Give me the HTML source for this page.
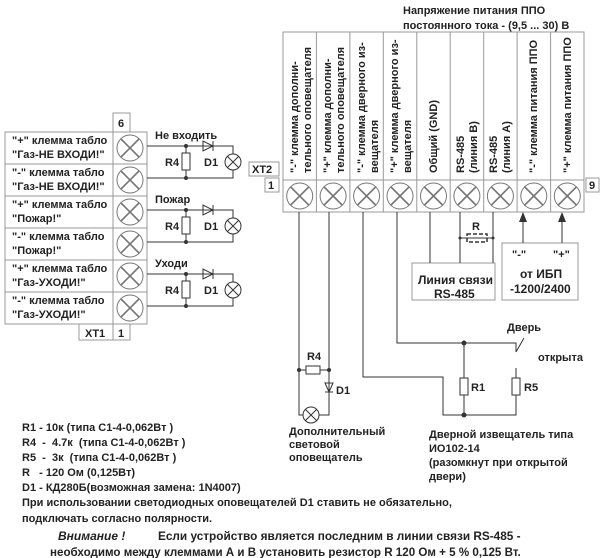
<!DOCTYPE html>
<html><head><meta charset="utf-8"><style>
html,body{margin:0;padding:0;background:#fff}
svg{display:block}
text{font-family:"Liberation Sans",sans-serif;font-size:11px;font-weight:bold;fill:#222}
.n{font-weight:normal}
</style></head><body>
<svg width="600" height="558" viewBox="0 0 600 558" xmlns="http://www.w3.org/2000/svg">
<defs>
<g id="term"><circle r="13" fill="#fff" stroke="#777" stroke-width="1"/><path d="M-9,-9L9,9M9,-9L-9,9" stroke="#777" stroke-width="1.6"/></g>
<g id="lamp"><circle r="8" fill="#fff" stroke="#333"/><path d="M-5.5,-5.5L5.5,5.5M5.5,-5.5L-5.5,5.5" stroke="#333"/></g>
</defs>
<g stroke="#999" fill="none">
<rect x="5" y="132" width="108" height="192"/>
<rect x="113" y="132" width="34" height="192"/>
<path d="M5,164H147M5,196H147M5,228H147M5,260H147M5,292H147"/>
<rect x="113" y="113" width="17" height="19"/>
<rect x="79" y="324" width="34" height="16"/>
<rect x="113" y="324" width="17" height="16"/>
<rect x="283" y="32" width="301" height="180"/>
<path d="M283,180H584"/>
<path d="M316.4,32V212M349.9,32V212M383.3,32V212M416.8,32V212M450.2,32V212M483.7,32V212M517.1,32V212M550.6,32V212"/>
<rect x="249" y="162" width="30" height="14"/>
<rect x="265" y="178" width="14" height="14"/>
<rect x="586" y="178" width="13" height="14"/>
<rect x="412" y="263" width="83" height="37"/>
<rect x="502" y="243" width="76" height="57"/>
</g>
<g>
<use href="#term" x="130" y="148"/><use href="#term" x="130" y="180"/><use href="#term" x="130" y="212"/>
<use href="#term" x="130" y="244"/><use href="#term" x="130" y="276"/><use href="#term" x="130" y="308"/>
<use href="#term" x="299.7" y="196"/><use href="#term" x="333.1" y="196"/><use href="#term" x="366.6" y="196"/>
<use href="#term" x="400" y="196"/><use href="#term" x="433.5" y="196"/><use href="#term" x="466.9" y="196"/>
<use href="#term" x="500.4" y="196"/><use href="#term" x="533.8" y="196"/><use href="#term" x="567.3" y="196"/>
</g>
<g stroke="#333" fill="none">
<g id="grp">
<path d="M147,146H233V154M233,170V178H147M186,146V153M186,170V178"/>
<rect x="182" y="153" width="8" height="17" fill="#fff"/>
<path d="M203,141V151L213,146Z M213,141V151"/>
</g>
<use href="#grp" y="64"/><use href="#grp" y="128"/>
</g>
<g fill="#333">
<circle cx="186" cy="146" r="2"/><circle cx="186" cy="178" r="2"/>
<circle cx="186" cy="210" r="2"/><circle cx="186" cy="242" r="2"/>
<circle cx="186" cy="274" r="2"/><circle cx="186" cy="306" r="2"/>
</g>
<use href="#lamp" x="233" y="162"/><use href="#lamp" x="233" y="226"/><use href="#lamp" x="233" y="290"/>
<text x="155" y="139">Не входить</text><text x="155" y="203">Пожар</text><text x="155" y="267">Уходи</text>
<text x="165" y="166">R4</text><text x="204" y="166">D1</text>
<text x="165" y="230">R4</text><text x="204" y="230">D1</text>
<text x="165" y="294">R4</text><text x="204" y="294">D1</text>
<text x="12" y="144">"+" клемма табло</text><text x="12" y="158">"Газ-НЕ ВХОДИ!"</text>
<text x="12" y="176">"-" клемма табло</text><text x="12" y="190">"Газ-НЕ ВХОДИ!"</text>
<text x="12" y="208">"+" клемма табло</text><text x="12" y="222">"Пожар!"</text>
<text x="12" y="240">"-" клемма табло</text><text x="12" y="254">"Пожар!"</text>
<text x="12" y="272">"+" клемма табло</text><text x="12" y="286">"Газ-УХОДИ!"</text>
<text x="12" y="304">"-" клемма табло</text><text x="12" y="318">"Газ-УХОДИ!"</text>
<text x="118" y="127">6</text><text x="85" y="337">XT1</text><text x="118" y="337">1</text>
<text x="252" y="173">XT2</text><text x="268" y="189">1</text><text x="589" y="189">9</text>
<text x="403" y="14">Напряжение питания ППО</text>
<text x="403" y="29">постоянного тока - (9,5 ... 30) В</text>
<g class="n">
<text transform="translate(298,173) rotate(-90)">"-" клемма дополни-</text><text transform="translate(311,173) rotate(-90)">тельного оповещателя</text>
<text transform="translate(331,173) rotate(-90)">"+" клемма дополни-</text><text transform="translate(344,173) rotate(-90)">тельного оповещателя</text>
<text transform="translate(365,173) rotate(-90)">"-" клемма дверного из-</text><text transform="translate(378,173) rotate(-90)">вещателя</text>
<text transform="translate(398,173) rotate(-90)">"+" клемма дверного из-</text><text transform="translate(411,173) rotate(-90)">вещателя</text>
<text transform="translate(437,173) rotate(-90)">Общий (GND)</text>
<text transform="translate(464,173) rotate(-90)">RS-485</text><text transform="translate(477,173) rotate(-90)">(линия В)</text>
<text transform="translate(497,173) rotate(-90)">RS-485</text><text transform="translate(510,173) rotate(-90)">(линия А)</text>
<text transform="translate(537,173) rotate(-90)">"-" клемма  питания ППО</text>
<text transform="translate(571,173) rotate(-90)">"+" клемма питания ППО</text>
</g>
<g stroke="#333" fill="none">
<path d="M299,212V415H303M319,415H329V212"/>
<path d="M299,370H306M320,370H329"/><rect x="306" y="366" width="14" height="8"/>
<path d="M325,383H333L329,392Z M325,392H333"/>
<path d="M363,212V377H443V415H516V395M516,378V368"/>
<path d="M397,212V343H516V352M516,352L524,338"/>
<path d="M464,343V378M464,395V415"/>
<rect x="460" y="378" width="8" height="17" fill="#fff"/>
<rect x="512" y="378" width="8" height="17" fill="#fff"/>
<path d="M430,212V263M460,212V263M493,212V263"/>
<path d="M460,238H493"/>
<rect x="467" y="234" width="20" height="8" stroke-dasharray="4,2" stroke-width="1.5"/>
<path d="M523,243V218M562,243V218"/>
</g>
<path d="M519,222L523,212L527,222Z M558,222L562,212L566,222Z" fill="#333"/>
<g fill="#333"><circle cx="299" cy="370" r="2"/><circle cx="329" cy="370" r="2"/>
<circle cx="464" cy="343" r="2.5"/><circle cx="464" cy="415" r="2.5"/>
<circle cx="460" cy="238" r="1.5"/><circle cx="493" cy="238" r="1.5"/></g>
<use href="#lamp" x="311" y="415"/>
<text x="307" y="360">R4</text><text x="336" y="394">D1</text>
<text x="472" y="230">R</text>
<text x="418" y="284" style="font-size:12px">Линия связи</text><text x="434" y="298" style="font-size:12px">RS-485</text>
<text x="512" y="258">"-"</text><text x="553" y="258">"+"</text>
<text x="520" y="278" style="font-size:12px">от ИБП</text><text x="510" y="293" style="font-size:12px">-1200/2400</text>
<text x="507" y="331">Дверь</text><text x="538" y="361">открыта</text>
<text x="471" y="391">R1</text><text x="524" y="391">R5</text>
<text x="289" y="435">Дополнительный</text><text x="289" y="448">световой</text><text x="289" y="461">оповещатель</text>
<text x="429" y="438">Дверной извещатель типа</text><text x="429" y="452">ИО102-14</text>
<text x="429" y="466">(разомкнут при открытой</text><text x="429" y="480">двери)</text>
<text x="22" y="431">R1 - 10к (типа С1-4-0,062Вт )</text>
<text x="22" y="446" xml:space="preserve">R4  -  4.7к  (типа С1-4-0,062Вт )</text>
<text x="22" y="461" xml:space="preserve">R5  -  3к  (типа С1-4-0,062Вт )</text>
<text x="22" y="476" xml:space="preserve">R   - 120 Ом (0,125Вт)</text>
<text x="22" y="491">D1 - КД280Б(возможная замена: 1N4007)</text>
<text x="22" y="506">При использовании светодиодных оповещателей D1 ставить не обязательно,</text>
<text x="22" y="522">подключать согласно полярности.</text>
<text x="58" y="540" style="font-size:12px;font-style:italic">Внимание !</text>
<text x="158" y="540" style="font-size:11.8px">Если устройство является последним в линии связи RS-485 -</text>
<text x="50" y="556" style="font-size:11.6px">необходимо между клеммами А и В установить резистор R 120 Ом + 5 % 0,125 Вт.</text>
</svg>
</body></html>
